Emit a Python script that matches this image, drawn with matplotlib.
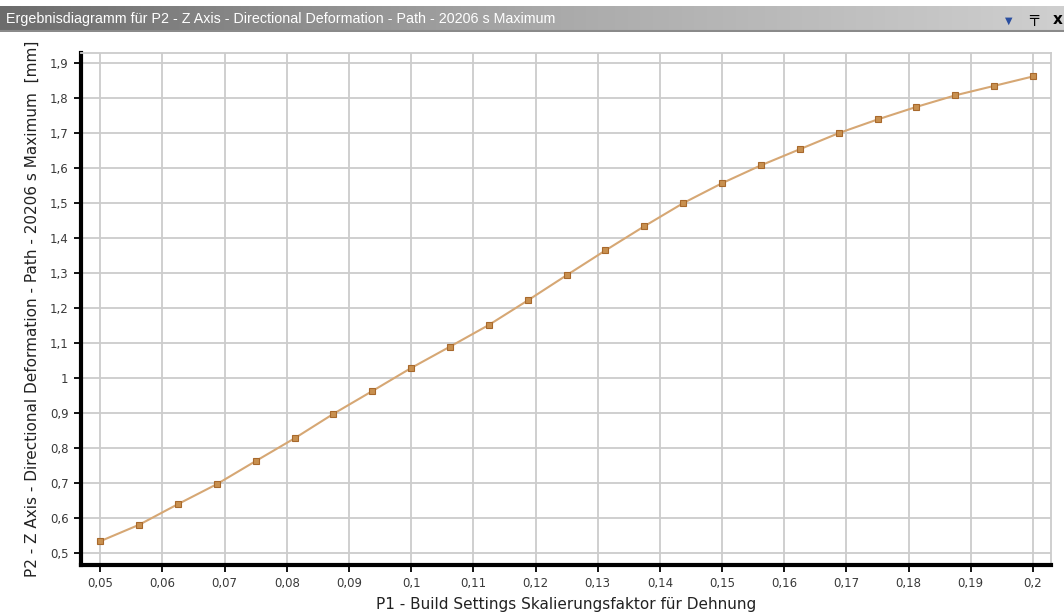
import matplotlib
matplotlib.use("Agg")
import matplotlib.pyplot as plt
from matplotlib.ticker import MultipleLocator, FuncFormatter
import numpy as np

# data
scale_factor = [0.05, 0.05625, 0.0625, 0.06875, 0.075, 0.08125, 0.0875, 0.09375,
                0.1, 0.10625, 0.1125, 0.11875, 0.125, 0.13125, 0.1375, 0.14375,
                0.15, 0.15625, 0.1625, 0.16875, 0.175, 0.18125, 0.1875, 0.19375, 0.2]
deformation = [0.534, 0.581, 0.640, 0.697, 0.763, 0.828, 0.898, 0.963,
               1.029, 1.090, 1.152, 1.222, 1.294, 1.365, 1.434, 1.500,
               1.557, 1.608, 1.654, 1.700, 1.739, 1.775, 1.808, 1.835, 1.862]

window_title = "Ergebnisdiagramm für P2 - Z Axis - Directional Deformation - Path - 20206 s Maximum"
x_label = "P1 - Build Settings Skalierungsfaktor für Dehnung"
y_label = "P2 - Z Axis - Directional Deformation - Path - 20206 s Maximum  [mm]"

W, H = 1064, 614
fig = plt.figure(figsize=(W / 100, H / 100), dpi=100)
fig.patch.set_facecolor("white")

# window title bar with grey gradient
bar = fig.add_axes([0, (H - 32) / H, 1, 26 / H])
grad = np.linspace(0, 1, 256).reshape(1, -1)
bar.imshow(grad, aspect="auto", cmap=plt.matplotlib.colors.LinearSegmentedColormap.from_list(
    "bar", ["#6c6c6c", "#a8a8a8", "#cfcfcf"]), extent=[0, 1, 0, 1])
bar.axhline(0.02, color="#8a8a8a", lw=1.5)
bar.set_xlim(0, 1)
bar.set_ylim(0, 1)
bar.axis("off")
bar.text(6 / W, 0.5, window_title, color="white", fontsize=10.3, va="center", ha="left",
         family="Liberation Sans")
bar.text(1009 / W, 0.45, "▼", color="#2a4ea0", fontsize=7, va="center", ha="center")
bar.text(1034 / W, 0.5, "╤", color="black", fontsize=11, va="center", ha="center", fontweight="bold")
bar.text(1058 / W, 0.5, "x", color="black", fontsize=11, va="center", ha="center", fontweight="bold")

ax = fig.add_axes([81 / W, (H - 565) / H, (1051 - 81) / W, (565 - 53) / H])
ax.plot(scale_factor, deformation, color="#d6a774", lw=1.5, marker="s", markersize=4.5,
        markerfacecolor="#c8904f", markeredgecolor="#a8692c", markeredgewidth=0.8, zorder=3)

ax.set_xlim(0.0469, 0.2029)
ax.set_ylim(0.466, 1.929)
ax.xaxis.set_major_locator(MultipleLocator(0.01))
ax.yaxis.set_major_locator(MultipleLocator(0.1))
fmt = FuncFormatter(lambda v, p: f"{v:g}".replace(".", ","))
ax.xaxis.set_major_formatter(fmt)
ax.yaxis.set_major_formatter(fmt)

ax.grid(True, color="#cccccc", lw=1.3)
ax.set_axisbelow(True)
for s in ["top", "right"]:
    ax.spines[s].set_color("#cccccc")
    ax.spines[s].set_linewidth(1.3)
for s in ["left", "bottom"]:
    ax.spines[s].set_color("black")
    ax.spines[s].set_linewidth(3)

ax.tick_params(axis="both", direction="out", length=5, width=1.3, color="black",
               labelsize=8.5, labelcolor="#3a3a3a", pad=4)

ax.set_xlabel(x_label, fontsize=11, color="#222222", labelpad=5)
ax.set_ylabel(y_label, fontsize=11, color="#222222", labelpad=7)

fig.savefig("out.png", dpi=100)
